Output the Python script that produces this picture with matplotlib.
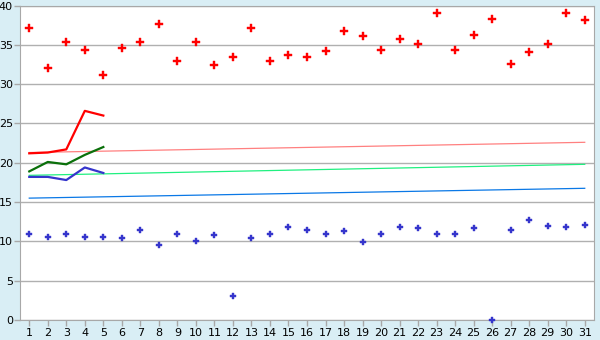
import numpy as np
import matplotlib
matplotlib.use("Agg")
import matplotlib.pyplot as plt

# category positions 1..31
days = list(range(1, 32))

# scattered daily values
red_points = [37.1, 32.0, 35.4, 34.3, 31.1, 34.6, 35.4, 37.7, 33.0, 35.4,
              32.4, 33.5, 37.1, 32.9, 33.7, 33.5, 34.2, 36.8, 36.1, 34.4,
              35.7, 35.1, 39.1, 34.4, 36.3, 38.3, 32.5, 34.1, 35.1, 39.1, 38.1]
blue_points = [10.9, 10.6, 10.9, 10.5, 10.6, 10.4, 11.4, 9.5, 11.0, 10.0,
               10.8, 3.0, 10.4, 10.9, 11.8, 11.5, 11.0, 11.3, 9.9, 10.9,
               11.8, 11.7, 10.9, 11.0, 11.7, 0.0, 11.4, 12.7, 11.9, 11.8, 12.1]

# short thick series (first five days)
short_days = [1, 2, 3, 4, 5]
red_line = [21.2, 21.3, 21.7, 26.6, 26.0]
green_line = [18.9, 20.1, 19.8, 21.0, 22.0]
blue_line = [18.2, 18.2, 17.8, 19.4, 18.7]

# thin trend lines (start / end)
trend_days = [1, 31]
pink_trend = [21.3, 22.6]
mint_trend = [18.4, 19.8]
sky_trend = [15.5, 16.75]

bg = "#d9eef5"
fig = plt.figure(figsize=(6, 3.4), dpi=100, facecolor=bg)
ax = fig.add_axes([20 / 600, 1 - 320 / 340, 574 / 600, 314.5 / 340])
ax.set_facecolor("white")

ax.plot(trend_days, pink_trend, color="#ff8080", lw=0.9)
ax.plot(trend_days, mint_trend, color="#20f080", lw=0.9)
ax.plot(trend_days, sky_trend, color="#0a78e6", lw=0.9)

ax.plot(short_days, red_line, color="#ff0000", lw=1.6)
ax.plot(short_days, green_line, color="#0a700a", lw=1.6)
ax.plot(short_days, blue_line, color="#3535cc", lw=1.6)

ax.plot(days, red_points, ls="none", marker="P", ms=5.5, color="#ff0000",
        mew=0.3, clip_on=False)
ax.plot(days, blue_points, ls="none", marker="P", ms=5, color="#3535cc",
        mew=0.3, clip_on=False, zorder=5)

ax.set_xlim(0.5, 31.5)
ax.set_ylim(0, 40)
ax.set_xticks(days)
ax.set_yticks(range(0, 41, 5))
ax.yaxis.grid(True, color="#b0b0b0", lw=1)
ax.set_axisbelow(True)
for s in ax.spines.values():
    s.set_color("#a8a8a8")
ax.tick_params(axis="both", colors="#a8a8a8", labelcolor="black",
               labelsize=8, length=4, width=1)
ax.tick_params(axis="x", pad=2)
ax.tick_params(axis="y", pad=1)

fig.savefig("out.png", dpi=100, facecolor=bg)
